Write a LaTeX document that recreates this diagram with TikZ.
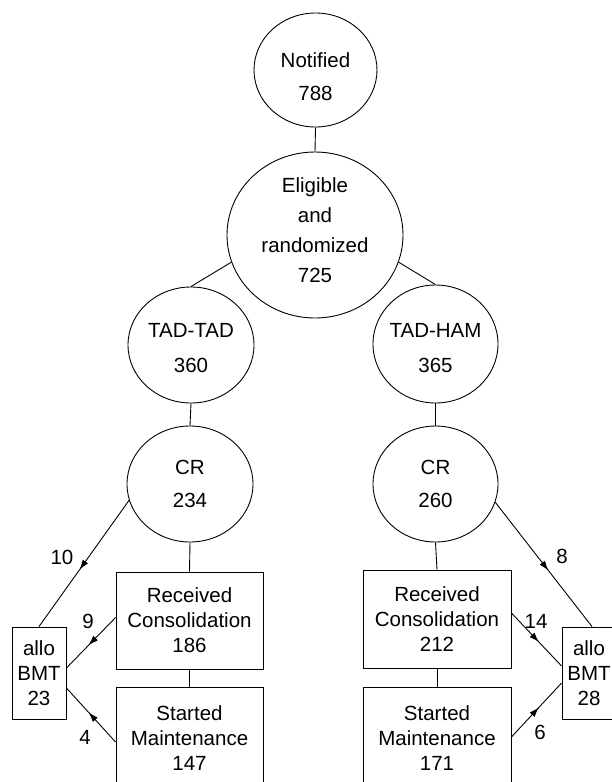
\documentclass[tikz,border=0pt]{standalone}
\usepackage{fontspec}
\setmainfont{Liberation Sans}
\usetikzlibrary{shapes.geometric,arrows.meta,decorations.markings}
\begin{document}
\begin{tikzpicture}[x=1pt,y=-1pt,
  line width=0.9pt,
  ell/.style={draw,shape=ellipse,inner sep=0pt},
  etext/.style={align=center,inner sep=0pt,font={\fontsize{20.5pt}{33pt}\selectfont}},
  box/.style={draw,rectangle,inner sep=0pt,align=center,font={\fontsize{20.5pt}{25pt}\selectfont}},
  num/.style={inner sep=0pt,font={\fontsize{20.5pt}{25pt}\selectfont}},
  midarrow/.style={postaction={decorate},decoration={markings,mark=at position 0.55 with {\arrow{Latex[length=10pt,width=6.5pt]}}}}
]
\useasboundingbox (0,0) rectangle (611,782);
% ellipses
\node[ell,minimum width=123pt,minimum height=114pt] (N) at (315.5,70) {};
\node[ell,minimum width=176pt,minimum height=166pt] (E) at (315,235) {};
\node[ell,minimum width=126pt,minimum height=116pt] (TT) at (191,345) {};
\node[ell,minimum width=125pt,minimum height=118pt] (TH) at (435.5,344) {};
\node[ell,minimum width=126pt,minimum height=116pt] (C1) at (190,484) {};
\node[ell,minimum width=125pt,minimum height=116pt] (C2) at (435.5,484) {};
% texts in ellipses
\node[etext] (Nt) at (315.5,77) {Notified\\788};
\node[etext,font={\fontsize{20.5pt}{30pt}\selectfont}] (Et) at (315,230) {Eligible\\and\\randomized\\725};
\node[etext,font={\fontsize{20.5pt}{35pt}\selectfont}] (TTt) at (191,348) {TAD-TAD\\360};
\node[etext,font={\fontsize{20.5pt}{35pt}\selectfont}] (THt) at (435.5,348) {TAD-HAM\\365};
\node[etext] (C1t) at (190,484) {CR\\234};
\node[etext] (C2t) at (435.5,484) {CR\\260};
% boxes
\node[box,minimum width=147pt,minimum height=97pt] (R1) at (189.5,620.5) {Received\\Consolidation\\186};
\node[box,minimum width=148pt,minimum height=98pt] (R2) at (437,619) {Received\\Consolidation\\212};
\node[box,minimum width=147pt,minimum height=102pt] (S1) at (189.5,738) {Started\\Maintenance\\147};
\node[box,minimum width=148pt,minimum height=102pt] (S2) at (437,738) {Started\\Maintenance\\171};
\node[box,minimum width=54pt,minimum height=92pt] (A1) at (39,673) {allo\\BMT\\23};
\node[box,minimum width=54pt,minimum height=92pt] (A2) at (589,673) {allo\\BMT\\28};
% plain connectors
\draw (N.south) -- (E.north);
\draw (E.198) -- (TT.north);
\draw (E.342) -- (TH.north);
\draw (TT.south) -- (C1.north);
\draw (TH.south) -- (C2.north);
\draw (C1.south) -- (R1.north);
\draw (C2.south) -- (R2.north);
\draw (R1.south) -- (S1.north);
\draw (R2.south) -- (S2.north);
% arrows
\draw[midarrow] (C1.195) -- (A1.north);
\draw[midarrow] ([yshift=3pt]R1.west) -- ([yshift=5pt]A1.east);
\draw[midarrow] ([yshift=-4pt]S1.west) -- ([yshift=-15pt]A1.east);
\draw[midarrow] (C2.343) -- ([xshift=3pt]A2.north);
\draw[midarrow] ([yshift=6pt]R2.east) -- ([yshift=7pt]A2.west);
\draw[midarrow] ([yshift=1pt]S2.east) -- ([yshift=-10pt]A2.west);
% labels
\node[num] (l10) at (62,557) {10};
\node[num] (l9) at (88,621) {9};
\node[num] (l4) at (85,737) {4};
\node[num] (l8) at (562,556) {8};
\node[num] (l14) at (536,621) {14};
\node[num] (l6) at (540,732) {6};
\end{tikzpicture}
\end{document}
